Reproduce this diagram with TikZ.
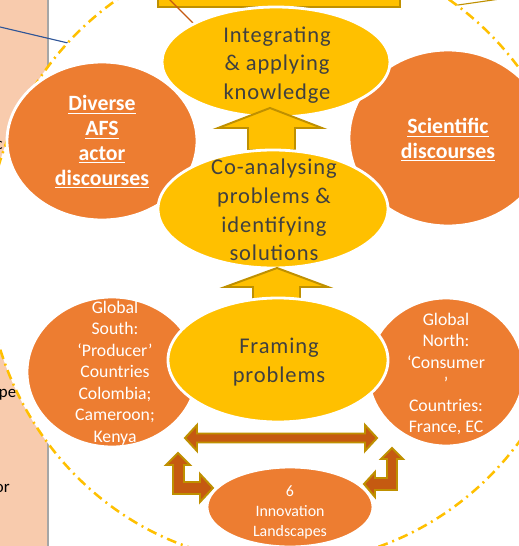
\documentclass[tikz,border=0pt]{standalone}
\usepackage{fontspec}
\setmainfont{Carlito}
\usepackage{xcolor}
\usepackage{tikz}
\usetikzlibrary{shapes.geometric}
\definecolor{amber}{HTML}{FFC000}
\definecolor{darkgold}{HTML}{BF9000}
\definecolor{tangerine}{HTML}{ED7D31}
\definecolor{rust}{HTML}{C55A11}
\definecolor{peach}{HTML}{F8CBAD}
\definecolor{slate}{HTML}{404040}
\definecolor{panelgray}{HTML}{A6A6A6}
\definecolor{bluish}{HTML}{2F5597}
\def\px{0.025cm}
\def\ul#1{\underline{#1}}
\tikzset{
  yellowblob/.style={ellipse,fill=amber,draw=white,line width=2pt,inner sep=0pt},
  orangeblob/.style={ellipse,fill=tangerine,draw=white,line width=2pt,inner sep=0pt},
  yellowtext/.style={text=slate,align=center,inner sep=0pt,
    font=\fontsize{16}{20.5}\selectfont\addfontfeatures{LetterSpace=4}},
  discoursetext/.style={text=white,align=center,inner sep=0pt,
    font=\bfseries\fontsize{15.5}{17.7}\selectfont},
  countrytext/.style={text=white,align=center,inner sep=0pt,
    font=\fontsize{12.6}{15.3}\selectfont},
  landtext/.style={text=white,align=center,inner sep=0pt,
    font=\fontsize{11.3}{14.2}\selectfont},
  fragment/.style={text=black,inner sep=0pt,font=\fontsize{12}{14}\selectfont},
  blockup/.style={fill=amber,draw=darkgold,line width=1.4pt,line join=miter},
  blocklink/.style={fill=rust,draw=darkgold,line width=1.4pt,line join=miter}
}
\begin{document}
\begin{tikzpicture}[x=\px,y=-\px]
  \useasboundingbox (0,0) rectangle (519,546);
  % side panel behind the landscape
  \fill[peach] (-5,-5) rectangle (47,551);
  \draw[panelgray,line width=1.4pt] (48,-5) -- (48,551);
  \node[fragment,anchor=base east] (frag-c) at (3,149) {c};
  \node[fragment,anchor=base east] (frag-pe) at (16.5,397) {pe};
  \node[fragment,anchor=base east] (frag-or) at (10,492) {or};
  \draw[bluish,line width=0.8pt] (-5,25.8) -- (90,48.2);
  \draw[darkgold,line width=0.8pt] (400,13.3) -- (530,-5.3);
  % landscape
  \draw[amber,fill=white,line width=1.8pt,dash pattern=on 7pt off 3.5pt on 1.4pt off 3.5pt]
    (283,255) ellipse [x radius=297,y radius=308];
  \draw[fill=amber,draw=darkgold,line width=1.5pt] (158,-10) rectangle (400,7);
  \draw[rust,line width=0.8pt] (165,-5) -- (200,30);

  \node[orangeblob,minimum width=190*\px,minimum height=158*\px] (diverse) at (102,141) {};
  \node[discoursetext] (diverse-txt) at (102,142) {\ul{Diverse}\\\ul{AFS}\\\ul{actor}\\\ul{discourses}};
  \node[orangeblob,minimum width=198*\px,minimum height=176*\px] (science) at (448,138) {};
  \node[discoursetext] (science-txt) at (448,140) {\ul{Scientific}\\\ul{discourses}};
  \node[orangeblob,minimum width=170*\px,minimum height=150*\px] (south) at (112,372) {};
  \node[countrytext] (south-txt) at (115,373) {Global\\South:\\‘Producer’\\Countries\\Colombia;\\Cameroon;\\Kenya};
  \node[orangeblob,minimum width=156*\px,minimum height=148*\px] (north) at (446,372) {};
  \node[countrytext] (north-txt) at (446,374) {Global\\North:\\‘Consumer\\’\\Countries:\\France, EC};

  % knowledge steps
  \node[yellowblob,minimum width=228*\px,minimum height=110*\px] (integrate) at (276,62) {};
  \node[yellowtext] (integrate-txt) at (277,65) {Integrating\\\& applying\\knowledge};
  \draw[blockup] (248,150) -- (248,128) -- (218,128) -- (270,108) -- (322,128) -- (295,128) -- (295,150) -- cycle;
  \node[yellowblob,minimum width=230*\px,minimum height=118*\px] (coanalyse) at (273,209) {};
  \node[yellowtext] (coanalyse-txt) at (274,210) {Co-analysing\\problems \&\\identifying\\solutions};
  \draw[blockup] (253,305) -- (253,287) -- (225,287) -- (277,268) -- (328,287) -- (300,287) -- (300,305) -- cycle;
  \node[yellowblob,minimum width=220*\px,minimum height=124*\px] (framing) at (278,360) {};
  \node[yellowtext] (framing-txt) at (279,362) {Framing\\problems};

  % links between countries and landscapes
  \draw[blocklink] (185,438) -- (197,425) -- (197,433.5) -- (365,433.5) -- (365,425) -- (377,438)
    -- (365,451) -- (365,442.5) -- (197,442.5) -- (197,451) -- cycle;
  \draw[blocklink] (178,453) -- (190,465) -- (184,465) -- (184,482) -- (200,482) -- (200,474) -- (213,488)
    -- (200,502) -- (200,494) -- (173,494) -- (173,465) -- (166,465) -- cycle;
  \draw[blocklink] (392,448) -- (403,459) -- (397,459) -- (397,490) -- (375,490) -- (375,497) -- (364,484)
    -- (375,472) -- (375,478) -- (387,478) -- (387,459) -- (381,459) -- cycle;
  \node[orangeblob,minimum width=166*\px,minimum height=80*\px] (landscapes) at (290,507) {};
  \node[landtext] (landscapes-txt) at (290,512) {6\\Innovation\\Landscapes};
\end{tikzpicture}
\end{document}
